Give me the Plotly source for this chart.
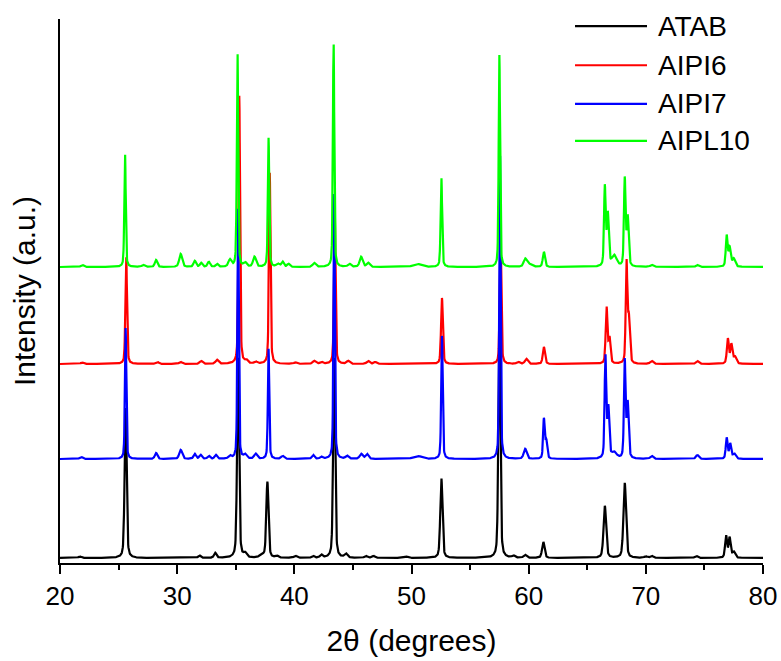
import numpy as np
import plotly.graph_objects as go

# ---- X-ray diffraction peaks: position (2θ, deg), height (a.u.), FWHM (deg) ----
names = ["ATAB", "AIPI6", "AIPI7", "AIPL10"]
colors = ["#000000", "#ff0000", "#0000ff", "#00ff00"]
offsets = [5, 199, 104, 296]  # vertical stacking offset of each pattern

atab_pos = [21.7, 25.6, 31.9, 33.25, 35.2, 35.8, 37.2, 37.7, 38.5, 40.1, 41.6, 42.3,
            43.4, 44.4, 46.1, 46.75, 49.5, 52.55, 57.5, 58.7, 59.7, 61.25, 66.5, 68.2,
            70.0, 70.5, 74.3, 76.85, 77.15, 77.5]
atab_height = [1.5, 150, 2.5, 5, 200, 4, 3, 76, 2, 2, 2, 3,
               200, 4, 2, 2, 1.5, 80, 230, 2, 3, 16, 52, 75,
               1.5, 2, 2, 22, 20, 6]
atab_fwhm = [0.3, 0.2, 0.25, 0.25, 0.2, 0.3, 0.4, 0.22, 0.3, 0.3, 0.25, 0.25,
             0.2, 0.3, 0.3, 0.3, 0.4, 0.22, 0.2, 0.3, 0.3, 0.25, 0.26, 0.26,
             0.3, 0.3, 0.3, 0.2, 0.2, 0.3]

aipi6_pos = [21.9, 25.65, 28.3, 30.3, 32.05, 33.4, 35.3, 35.9, 36.7, 37.9, 40.1, 41.7,
             42.3, 43.45, 44.6, 46.3, 46.9, 52.6, 57.6, 59.1, 59.8, 61.3, 66.65, 66.9,
             68.35, 68.55, 70.5, 74.4, 77.0, 77.3, 77.6]
aipi6_height = [1.5, 108, 2, 2, 3, 4, 268, 3, 2, 191, 1.5, 3,
                2, 150, 3, 3, 2, 66, 130, 2, 5, 17, 56, 25,
                100, 45, 3, 3, 25, 19, 7]
aipi6_fwhm = [0.3, 0.16, 0.3, 0.3, 0.3, 0.3, 0.16, 0.3, 0.3, 0.16, 0.3, 0.3,
              0.3, 0.16, 0.3, 0.3, 0.3, 0.18, 0.16, 0.3, 0.3, 0.22, 0.18, 0.2,
              0.16, 0.2, 0.3, 0.3, 0.2, 0.2, 0.3]

aipi7_pos = [21.8, 25.6, 28.2, 30.3, 31.5, 32.0, 32.7, 33.3, 34.5, 35.2, 35.8, 36.7,
             37.8, 39.0, 41.6, 42.3, 43.4, 44.5, 45.7, 46.2, 50.5, 52.6, 57.55, 59.7,
             61.3, 61.5, 66.55, 66.8, 67.3, 68.2, 68.45, 70.5, 74.4, 76.9, 77.2, 77.55]
aipi7_height = [2, 131, 6, 9, 5, 4, 3, 4, 3, 250, 4, 5,
                110, 3, 4, 2, 265, 3, 5, 5, 3, 123, 308, 10,
                39, 18, 102, 50, 6, 97, 55, 3, 4, 21, 15, 5]
aipi7_fwhm = [0.3, 0.14, 0.25, 0.3, 0.25, 0.25, 0.25, 0.25, 0.3, 0.14, 0.3, 0.3,
              0.14, 0.3, 0.25, 0.25, 0.14, 0.3, 0.3, 0.3, 0.8, 0.15, 0.14, 0.3,
              0.16, 0.2, 0.16, 0.2, 0.5, 0.16, 0.2, 0.3, 0.3, 0.18, 0.2, 0.3]

aipl10_pos = [21.9, 25.55, 27.1, 28.2, 30.3, 31.5, 32.05, 32.7, 33.4, 34.5, 35.15, 35.8,
              36.6, 37.8, 38.6, 39.0, 39.5, 41.7, 43.35, 44.7, 45.7, 46.3, 50.5, 52.55,
              57.5, 59.7, 60.0, 61.3, 66.5, 66.75, 67.3, 68.2, 68.45, 70.5, 74.4, 76.9,
              77.15, 77.5]
aipl10_height = [2, 114, 2, 7, 13, 6, 4, 5, 3, 7, 216, 4,
                 10, 129, 3, 5, 3, 4, 226, 3, 10, 4, 3, 90,
                 212, 7, 3, 15, 79, 52, 11, 87, 49, 2, 2, 31,
                 19, 8]
aipl10_fwhm = [0.3, 0.14, 0.3, 0.25, 0.3, 0.25, 0.25, 0.25, 0.25, 0.3, 0.14, 0.3,
               0.3, 0.14, 0.3, 0.25, 0.25, 0.3, 0.14, 0.3, 0.3, 0.3, 0.8, 0.15,
               0.14, 0.3, 0.6, 0.22, 0.16, 0.2, 0.5, 0.16, 0.2, 0.3, 0.3, 0.18,
               0.2, 0.3]

peaks = [
    (atab_pos, atab_height, atab_fwhm),
    (aipi6_pos, aipi6_height, aipi6_fwhm),
    (aipi7_pos, aipi7_height, aipi7_fwhm),
    (aipl10_pos, aipl10_height, aipl10_fwhm),
]

two_theta = np.arange(20.0, 80.0001, 0.02)


def pattern(pos, height, fwhm, offset, eta=0.4):
    """Pseudo-Voigt peak profile summed over the 2θ grid."""
    y = np.full_like(two_theta, float(offset))
    for p, h, w in zip(pos, height, fwhm):
        hw = w / 2.0
        lor = 1.0 / (1.0 + ((two_theta - p) / hw) ** 2)
        gau = np.exp(-np.log(2) * ((two_theta - p) / hw) ** 2)
        y += h * (eta * lor + (1 - eta) * gau)
    return y


fig = go.Figure()
for name, color, off, (pos, hgt, fw) in zip(names, colors, offsets, peaks):
    fig.add_trace(go.Scatter(
        x=two_theta, y=pattern(pos, hgt, fw, off), mode="lines", name=name,
        line=dict(color=color, width=2.2), showlegend=False,
    ))

font_family = "Liberation Sans, Arial, sans-serif"

# Legend drawn as line samples with labels in the upper right
legend_rows = [0.987, 0.915, 0.844, 0.776]
for name, color, yy in zip(names, colors, legend_rows):
    fig.add_shape(type="line", xref="paper", yref="paper",
                  x0=0.7326, x1=0.835, y0=yy, y1=yy,
                  line=dict(color=color, width=2.2))
    fig.add_annotation(xref="paper", yref="paper", x=0.848, y=yy,
                       text=name, showarrow=False, xanchor="left", yanchor="middle",
                       font=dict(family=font_family, size=28, color="black"))

fig.update_layout(
    template="none",
    width=781, height=661,
    margin=dict(l=60, r=18, t=19, b=98, autoexpand=False),
    paper_bgcolor="white", plot_bgcolor="white",
    font=dict(family=font_family, color="black"),
    xaxis=dict(
        range=[20, 80], tick0=20, dtick=10, automargin=False,
        ticks="outside", ticklen=9, tickwidth=2, tickcolor="black",
        minor=dict(ticks="outside", ticklen=5, tickwidth=2, tickcolor="black", dtick=5, tick0=20),
        showline=True, linewidth=2, linecolor="black", mirror=False,
        showgrid=False, zeroline=False,
        tickfont=dict(size=26, family=font_family, color="black"),
        title=dict(text="2θ (degrees)", font=dict(size=30, family=font_family, color="black"),
                   standoff=20),
    ),
    yaxis=dict(
        range=[0, 544], showticklabels=False, ticks="", automargin=False,
        showline=True, linewidth=2, linecolor="black", mirror=False,
        showgrid=False, zeroline=False,
        title=dict(text="Intensity (a.u.)", font=dict(size=30, family=font_family, color="black"),
                   standoff=14),
    ),
)

fig.write_html("out.html")
